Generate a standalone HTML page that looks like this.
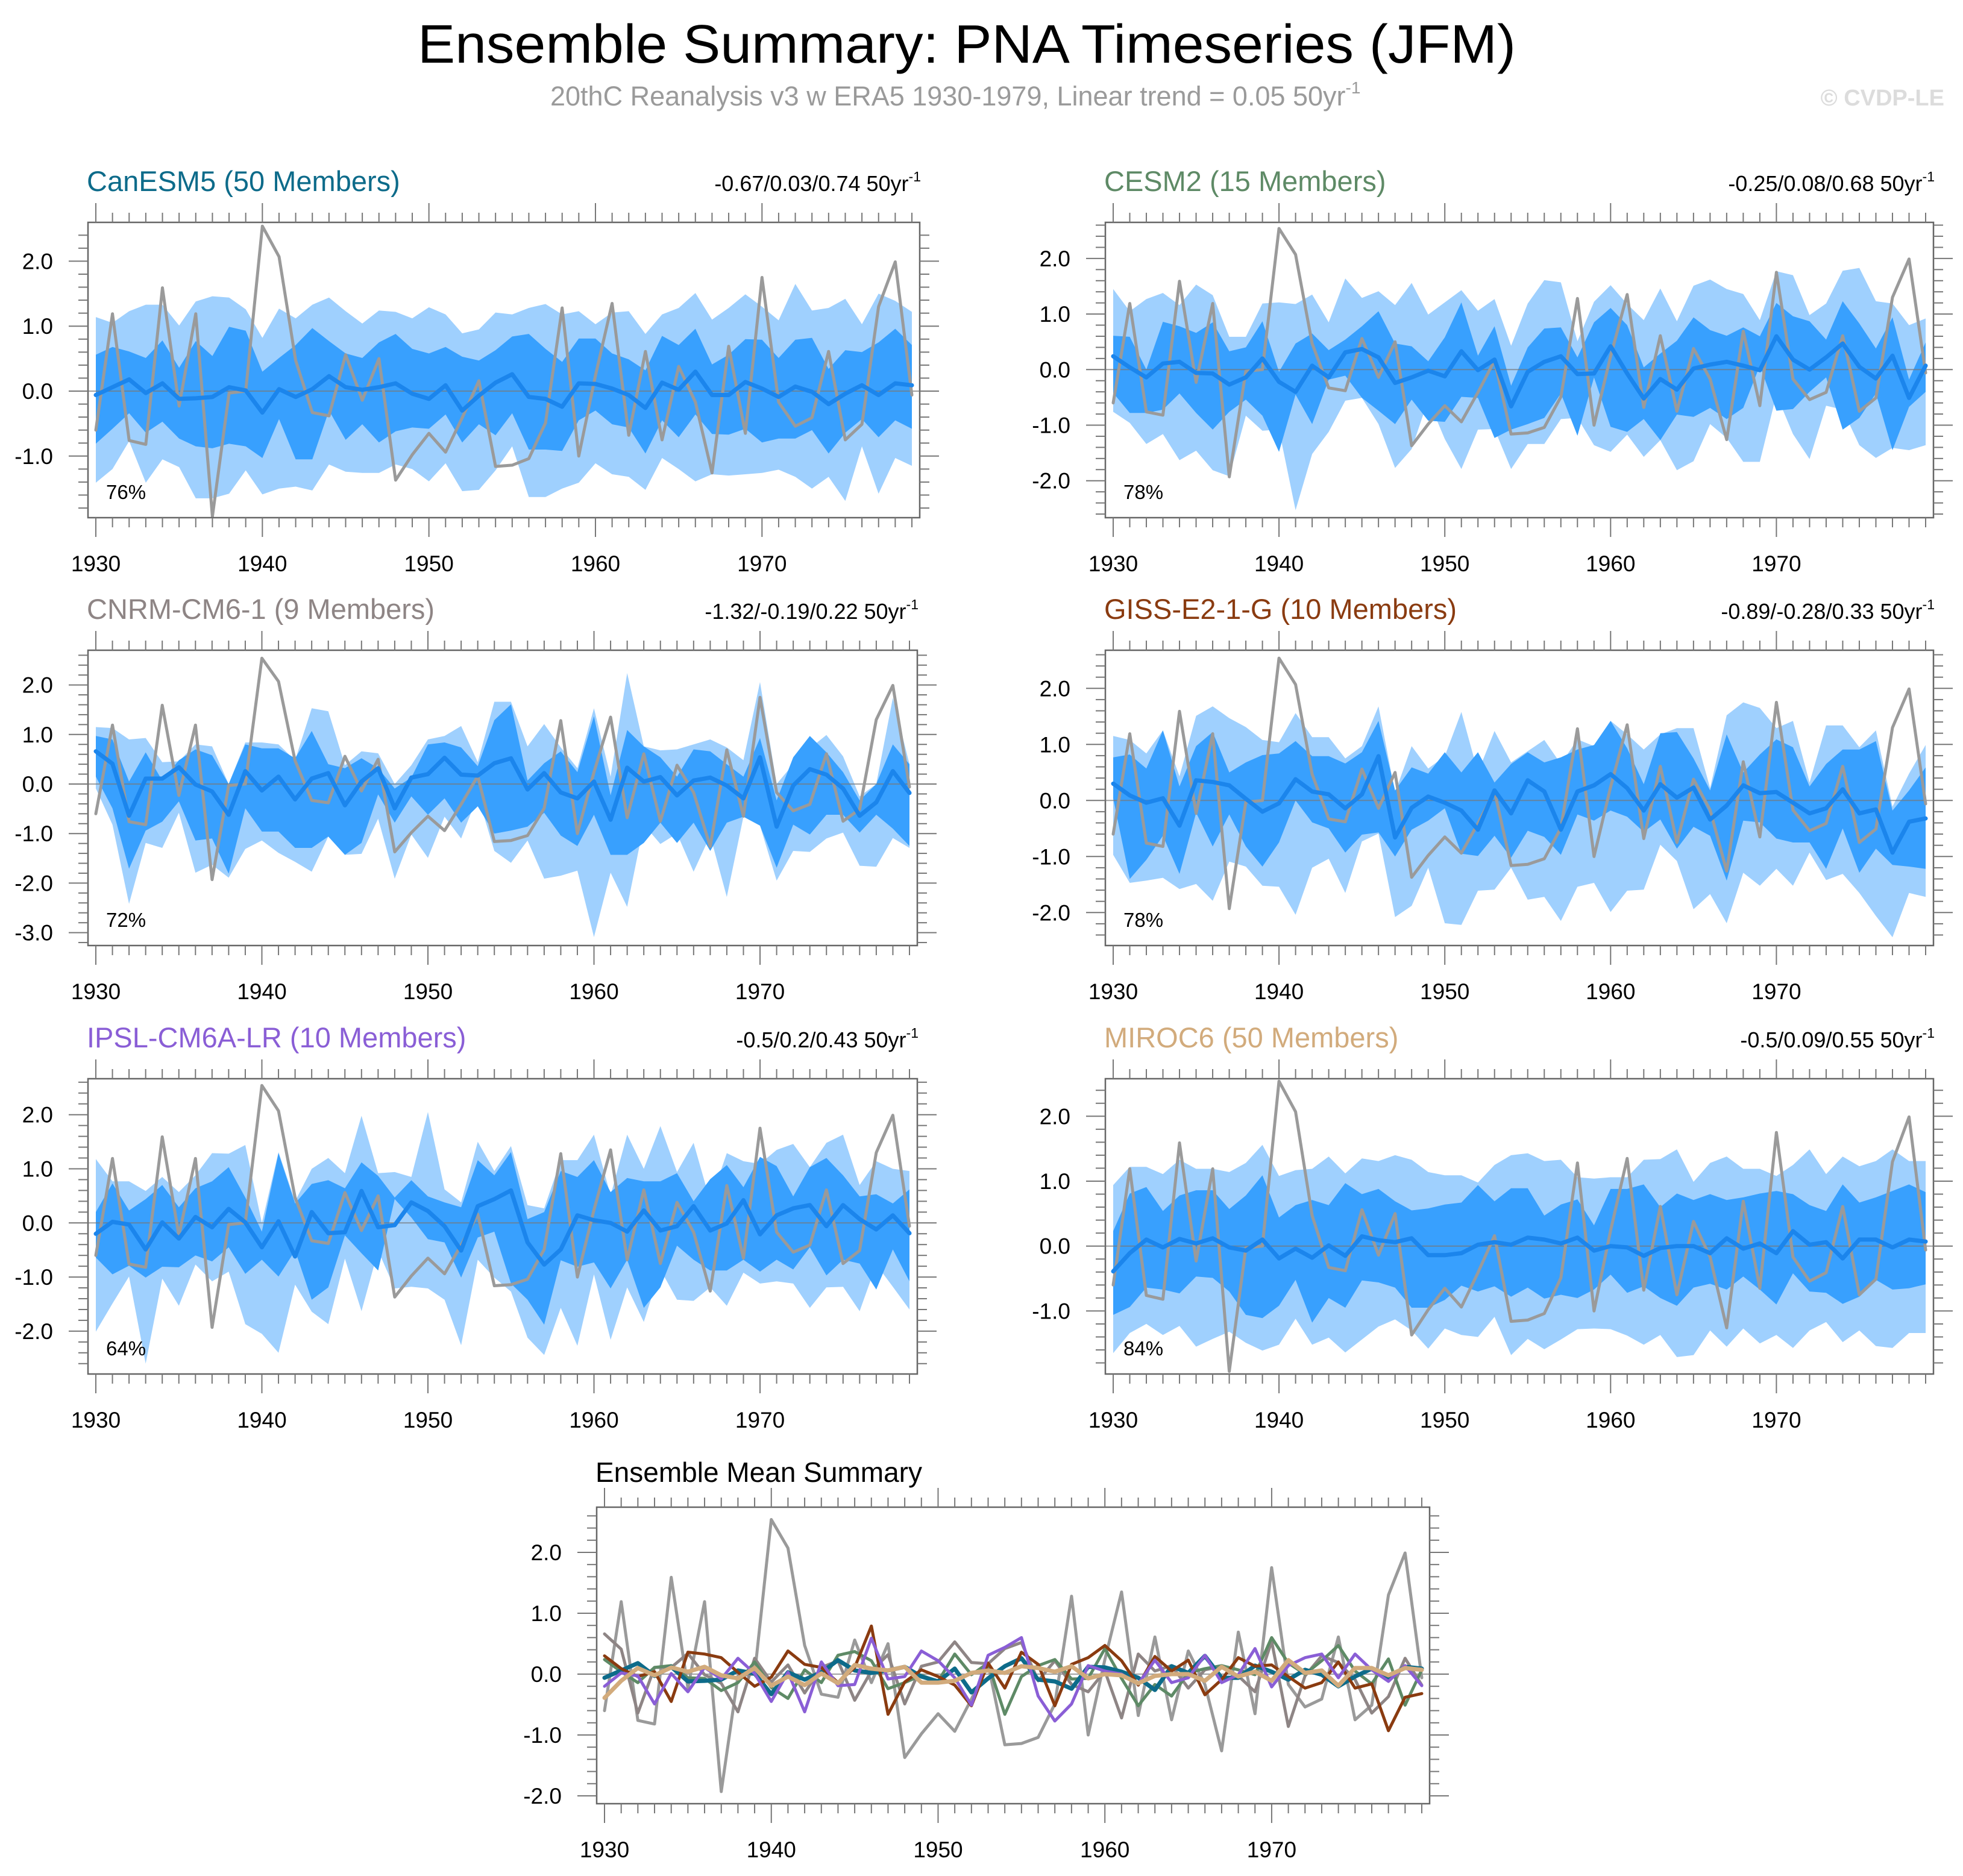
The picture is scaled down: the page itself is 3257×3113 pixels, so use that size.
<!DOCTYPE html>
<html><head><meta charset="utf-8"><style>
html,body{margin:0;padding:0;background:#fff;}
svg{display:block;font-family:"Liberation Sans",sans-serif;}
</style></head><body>
<svg id="fig" xmlns="http://www.w3.org/2000/svg" width="3257" height="3113" viewBox="0 0 3257 3113">
<rect width="3257" height="3113" fill="#fff"/>
<text x="1604" y="104" font-size="90" text-anchor="middle" textLength="1822" lengthAdjust="spacingAndGlyphs">Ensemble Summary: PNA Timeseries (JFM)</text>
<text x="913" y="175" font-size="45" fill="#9a9a9a">20thC Reanalysis v3 w ERA5 1930-1979, Linear trend = 0.05 50yr<tspan font-size="28" dy="-20">-1</tspan></text>
<text x="3226" y="175" font-size="38" font-weight="bold" fill="#dcdcdc" text-anchor="end">© CVDP-LE</text>
<g id="panels"></g>
</svg>
<script>
const years = [];
for (let y = 1930; y <= 1979; y++) years.push(y);
const obs = [-0.6,1.19,-0.76,-0.82,1.59,-0.23,1.19,-1.93,-0.03,0.0,2.54,2.07,0.47,-0.33,-0.38,0.56,-0.14,0.5,-1.37,-0.98,-0.65,-0.94,-0.41,0.16,-1.16,-1.14,-1.04,-0.49,1.28,-1.0,0.24,1.35,-0.68,0.61,-0.75,0.38,-0.17,-1.26,0.69,-0.65,1.75,-0.17,-0.54,-0.41,0.61,-0.75,-0.51,1.3,1.99,-0.06];

const canMean = [-0.06,0.06,0.18,-0.03,0.12,-0.12,-0.11,-0.09,0.06,0.01,-0.33,0.03,-0.09,0.03,0.23,0.06,0.02,0.06,0.12,-0.04,-0.12,0.09,-0.3,-0.07,0.13,0.26,-0.09,-0.12,-0.24,0.12,0.11,0.04,-0.06,-0.26,0.13,0.02,0.3,-0.06,-0.06,0.14,0.04,-0.09,0.07,-0.01,-0.2,-0.04,0.09,-0.06,0.12,0.09];
const canOutHi = [1.14,1.05,1.23,1.33,1.33,1.01,1.38,1.46,1.44,1.26,0.82,1.27,1.12,1.33,1.44,1.23,1.04,1.24,1.22,1.12,1.29,1.18,0.89,0.95,1.21,1.18,1.28,1.34,1.18,1.23,1.03,1.21,1.23,0.88,1.18,1.28,1.51,1.1,1.28,1.49,1.3,1.09,1.65,1.24,1.28,1.42,1.03,1.5,1.39,1.22];
const canInHi = [0.56,0.68,0.61,0.51,0.78,0.36,0.77,0.54,0.99,0.93,0.3,0.51,0.71,0.97,0.77,0.58,0.51,0.75,0.88,0.65,0.58,0.68,0.53,0.47,0.63,0.84,0.88,0.65,0.45,0.81,0.81,0.58,0.49,0.32,0.85,0.71,0.96,0.41,0.56,0.8,0.79,0.51,0.79,0.82,0.34,0.63,0.6,0.75,0.96,0.71];
const canInLo = [-0.81,-0.58,-0.34,-0.64,-0.47,-0.73,-0.85,-0.88,-0.81,-0.85,-1.03,-0.43,-1.05,-1.05,-0.3,-0.75,-0.51,-0.79,-0.62,-0.56,-0.58,-0.36,-0.79,-0.51,-0.68,-0.34,-0.9,-0.9,-0.92,-0.45,-0.3,-0.51,-0.56,-0.96,-0.45,-0.71,-0.36,-0.66,-0.67,-0.58,-0.79,-0.73,-0.73,-0.6,-0.96,-0.64,-0.43,-0.71,-0.45,-0.58];
const canOutLo = [-1.41,-1.2,-0.77,-1.41,-1.05,-1.17,-1.65,-1.65,-1.58,-1.22,-1.59,-1.5,-1.47,-1.53,-1.13,-1.24,-1.26,-1.26,-1.13,-1.2,-1.39,-1.11,-1.54,-1.52,-1.22,-0.85,-1.63,-1.63,-1.5,-1.41,-1.11,-1.28,-1.32,-1.52,-1.03,-1.2,-1.39,-1.28,-1.3,-1.28,-1.26,-1.21,-1.32,-1.5,-1.32,-1.69,-0.85,-1.58,-1.03,-1.15];

const cesmMean = [0.24,0.04,-0.14,0.11,0.14,-0.06,-0.07,-0.27,-0.14,0.2,-0.22,-0.4,0.07,-0.14,0.31,0.37,0.22,-0.24,-0.14,-0.02,-0.12,0.33,-0.01,0.18,-0.66,-0.04,0.14,0.24,-0.08,-0.07,0.42,-0.07,-0.52,-0.17,-0.36,0.02,0.09,0.14,0.07,-0.01,0.6,0.18,0,0.22,0.47,0.05,-0.16,0.25,-0.51,0.07];
const cesmOutHi = [1.45,1.05,1.27,1.38,1.16,1.53,1.34,0.59,0.59,1.19,1.21,1.18,1.35,0.85,1.64,1.29,1.41,1.16,1.56,0.99,1.21,1.43,1.06,1.27,0.43,1.19,1.61,1.57,0.51,1.22,1.52,1.18,0.89,1.46,0.87,1.51,1.62,1.45,1.36,0.89,1.77,1.7,0.98,1.19,1.78,1.83,1.23,1.19,0.8,0.92];
const cesmInHi = [0.61,0.59,0,0.86,0.78,0.66,0.85,0.33,0.4,0.87,-0.04,0.47,0.65,0.35,0.54,0.78,1.05,0.47,0.42,0.15,0.58,1.21,0.25,0.78,-0.29,0.4,0.74,0.76,0.22,0.85,1.11,0.8,0.04,0.29,0.52,0.94,0.71,0.61,0.76,0.6,1.2,0.96,0.87,0.54,1.23,0.83,0.38,0.94,-0.18,0.49];
const cesmInLo = [-0.42,-0.78,-0.78,-0.72,-0.43,-0.78,-1.08,-0.76,-0.54,-0.83,-1.48,-0.45,-0.98,-0.18,-0.11,-0.51,-0.74,-0.98,-0.54,-0.92,-0.94,-0.49,-0.51,-1.23,-1.08,-0.98,-0.87,-0.43,-1.19,-0.14,-1.03,-1.12,-0.89,-1.27,-0.81,-0.85,-0.69,-0.89,-0.69,0.07,-0.74,-0.71,-0.4,-0.14,-1.08,-0.87,-0.43,-1.45,-0.67,-0.4];
const cesmOutLo = [-0.76,-0.96,-1.34,-1.16,-1.63,-1.46,-1.81,-1.92,-0.83,-1.1,-1.08,-2.53,-1.52,-1.12,-0.56,-0.51,-0.98,-1.77,-1.43,-0.54,-1.25,-1.79,-1.08,-1.07,-1.79,-1.34,-1.34,-0.89,-0.87,-1.36,-1.48,-1.17,-1.57,-1.27,-1.81,-1.65,-0.98,-1.23,-1.66,-1.66,-0.45,-1.16,-1.61,-0.65,-0.72,-1.36,-1.59,-1.41,-1.45,-1.36];

const cnrmMean = [0.66,0.41,-0.64,0.11,0.11,0.34,-0.01,-0.15,-0.62,0.26,-0.13,0.15,-0.31,0.11,0.22,-0.43,0.05,0.32,-0.49,0.13,0.2,0.53,0.19,0.17,0.42,0.52,-0.11,0.22,-0.17,-0.29,0.05,-0.72,0.33,0.05,0.14,-0.23,0.07,0.13,-0.03,-0.29,0.54,-0.86,-0.03,0.3,0.19,-0.09,-0.64,-0.37,0.26,-0.18];
const cnrmOutHi = [1.15,1.13,0.9,0.93,0.44,0.46,0.8,0.76,0,0.84,0.84,0.8,0.48,1.53,1.47,0.38,0.66,0.62,0,0.38,0.9,0.97,1.17,0.44,1.66,1.66,0.76,1.21,0.74,0.32,1.53,0.15,2.24,0.76,0.68,0.7,0.8,0.9,0.74,0.48,2.06,0,0.4,0.72,0.99,0.56,-0.25,0,1.74,0.4];
const cnrmInHi = [0.97,0.9,0.05,0.64,0.07,0.48,0.7,0.58,0,0.8,0.72,0.72,0.52,1.07,0.4,0.32,0.52,0.32,-0.09,0.13,0.8,0.84,0.74,0.36,1.29,1.61,0.07,0.42,0.66,0.24,1.37,-0.23,1.09,0.76,0.54,0.15,0.7,0.66,0.4,0.15,0.93,-0.33,0.54,0.97,0.64,0.24,-0.33,0,0.8,0.4];
const cnrmInLo = [0.15,-0.49,-1.71,-0.94,-0.76,-0.35,-1.14,-1.1,-1.81,-0.49,-0.96,-0.96,-1.29,-1.29,-1.06,-1.43,-1.19,-0.21,-0.78,-0.25,-0.62,-0.29,-0.78,-0.45,-1.0,-0.94,-0.86,-0.58,-1.04,-1.25,-0.62,-1.43,-1.43,-1.19,-0.78,-1.19,-0.78,-1.35,-0.78,-0.66,-0.84,-1.69,-0.82,-1.02,-0.62,-0.62,-0.98,-0.62,-0.9,-1.25];
const cnrmOutLo = [-0.09,-0.82,-2.42,-1.19,-1.29,-0.58,-1.79,-1.63,-1.89,-1.31,-1.14,-1.39,-1.57,-1.77,-1.06,-1.43,-1.41,-0.7,-1.91,-1.02,-1.49,-0.66,-1.1,-0.23,-1.35,-1.59,-1.14,-1.91,-1.85,-1.75,-3.09,-1.79,-2.48,-0.82,-1.21,-1.0,-1.77,-1.04,-2.28,-0.66,-0.84,-1.95,-1.35,-1.37,-1.1,-0.98,-1.65,-1.67,-1.09,-1.29];

const gissMean = [0.3,0.09,-0.04,0.04,-0.45,0.36,0.33,0.27,0.03,-0.2,-0.05,0.38,0.16,0.11,-0.14,0.11,0.79,-0.66,-0.13,0.07,-0.04,-0.18,-0.52,0.18,-0.23,0.36,0.16,-0.52,0.16,0.27,0.47,0.22,-0.18,0.29,0.05,0.23,-0.34,-0.09,0.27,0.13,0.15,-0.04,-0.23,-0.14,0.2,-0.23,-0.16,-0.93,-0.38,-0.32];
const gissOutHi = [1.15,1.08,0.84,1.25,0.43,1.51,1.68,1.47,1.31,1.08,1.04,1.56,1.13,1.13,0.75,0.97,1.68,0.14,0.97,0.57,0.79,1.58,0.5,1.24,0.68,0.88,1.08,0.65,1.09,0.97,1.42,1.18,0.91,1.18,1.29,1.29,0.22,1.52,1.75,1.65,1.29,1.42,0.32,1.34,1.34,0.95,1.25,-0.11,0.48,0.99];
const gissInHi = [0.77,0.82,0.57,1.25,0.25,0.97,1.22,0.5,0.68,0.81,0.84,1.06,0.79,0.79,0.66,0.86,1.42,0.18,0.59,0.48,0.86,0.5,0.86,0.32,0.65,0.86,0.68,0.77,0.91,0.99,1.42,0.93,0.29,1.2,1.22,0.75,0.18,1.18,0.5,0.82,1.09,0.95,0.25,0.65,0.91,0.91,1.06,-0.18,0.18,0.59];
const gissInLo = [0.04,-1.4,-1.06,-0.63,-1.31,-0.22,-0.82,-0.25,-0.82,-1.18,-0.75,0,-0.39,-0.5,-0.93,-0.61,-0.57,-1.0,-0.52,-0.36,-0.14,-0.95,-0.99,-0.63,-1.02,-0.54,-0.65,-0.97,-0.25,-0.36,-0.18,-0.29,-0.56,-0.34,-0.86,-0.47,-0.63,-1.43,-0.36,-0.39,-0.68,-0.75,-0.75,-1.22,-0.5,-1.29,-0.86,-1.15,-1.18,-1.22];
const gissOutLo = [-0.97,-1.47,-1.43,-1.38,-1.58,-1.49,-1.79,-1.09,-1.18,-1.52,-1.54,-2.04,-1.2,-1.04,-1.65,-0.73,-0.59,-2.08,-1.88,-1.2,-2.19,-2.22,-1.61,-1.59,-1.2,-1.77,-1.72,-2.15,-1.54,-1.47,-1.99,-1.61,-1.59,-0.79,-1.08,-1.94,-1.67,-2.19,-1.29,-1.52,-1.22,-1.52,-0.93,-1.42,-1.31,-1.65,-2.06,-2.44,-1.65,-1.72];

const ipslMean = [-0.2,0.02,-0.03,-0.49,0.01,-0.29,0.11,-0.08,0.26,0.01,-0.45,0.03,-0.62,0.2,-0.19,-0.17,0.59,-0.08,-0.04,0.38,0.22,-0.06,-0.51,0.31,0.44,0.6,-0.36,-0.77,-0.49,0.14,0.05,0,-0.16,0.23,-0.14,-0.06,0.31,-0.14,-0.01,0.42,-0.21,0.14,0.27,0.33,-0.06,0.33,0.07,-0.12,0.14,-0.19];
const ipslOutHi = [1.18,0.77,0.77,0.59,0.85,0.57,0.88,1.29,1.28,1.44,0,1.31,0.4,1.0,1.2,0.92,1.98,0.92,0.94,0.85,2.05,0.62,0.38,1.5,0.96,1.42,0.33,0.27,1.16,1.16,1.63,0.51,1.63,1.0,1.79,0.94,1.48,0.4,1.29,1.14,1.09,1.35,1.46,1.03,1.48,1.63,0.7,1.14,1.0,0.96];
const ipslInHi = [0.2,0.73,0.23,0.44,0.7,0.29,0.64,0.77,1.03,0.47,-0.16,1.29,0.36,0.72,0.79,0.64,1.12,0.87,0.47,0.79,0.49,0.38,0.29,1.16,0.88,1.31,0.07,0.2,0.96,0.85,1.16,0.57,0.83,0.77,0.77,0.92,0.4,0.81,1.07,0.66,1.22,1.05,0.49,1.03,1.2,0.88,0.49,0.53,0.36,0.62];
const ipslInLo = [-0.64,-0.95,-0.79,-1.01,-0.81,-0.82,-0.6,-0.71,-0.45,-0.94,-0.68,-0.99,-0.51,-1.42,-1.19,-0.23,-0.56,-0.88,0.44,0.1,-0.3,-0.36,-1.01,-0.27,-0.16,-1.12,-1.42,-1.88,-0.69,-0.81,-0.73,-1.21,-0.68,-1.57,-1.19,-0.42,-0.68,-0.88,-0.88,-0.68,-0.9,-0.68,-0.86,-0.45,-0.97,-0.68,-0.75,-1.23,-0.49,-1.08];
const ipslOutLo = [-2.01,-1.49,-0.99,-2.6,-1.03,-1.53,-0.77,-1.08,-0.9,-1.87,-2.05,-2.4,-1.14,-1.64,-1.87,-0.66,-1.63,-0.51,-1.21,-1.18,-1.21,-1.42,-2.26,-0.68,-1.01,-1.27,-2.12,-2.44,-1.57,-2.27,-0.95,-2.16,-1.19,-1.83,-0.86,-1.42,-1.44,-1.19,-1.53,-0.92,-1.12,-1.08,-1.12,-1.57,-1.19,-1.18,-1.63,-0.77,-1.18,-1.6];

const mirocMean = [-0.39,-0.11,0.1,-0.02,0.11,0.04,0.12,-0.02,-0.07,0.1,-0.19,-0.04,-0.18,0.01,-0.15,0.15,0.09,0.06,0.12,-0.14,-0.14,-0.11,0.02,0.06,0.02,0.13,0.1,0.04,0.13,-0.07,0,-0.02,-0.15,-0.03,0,0,-0.11,0.12,-0.04,0.04,-0.11,0.23,0.02,0.06,-0.19,0.1,0.1,-0.02,0.1,0.07];
const mirocOutHi = [0.94,1.22,1.22,1.11,1.33,1.19,1.19,1.14,1.28,1.56,1.08,1.17,1.19,1.38,1.12,1.35,1.31,1.4,1.33,1.14,1.09,1.09,0.98,1.25,1.4,1.43,1.31,1.33,1.06,1.04,1.06,1.06,1.33,1.34,1.49,0.99,1.28,1.38,1.19,1.19,1.08,1.25,1.49,1.11,1.38,1.23,1.31,1.49,1.31,1.31];
const mirocInHi = [0.23,0.81,0.91,0.54,0.78,0.86,0.86,0.57,0.78,1.09,0.44,0.63,0.71,0.63,0.97,0.8,0.88,0.69,0.55,0.58,0.64,0.67,0.94,0.69,0.89,0.89,0.47,0.64,0.72,0.32,0.88,0.88,0.95,0.6,0.81,0.71,0.8,0.71,0.75,0.81,0.85,0.8,0.63,0.54,0.95,0.67,0.75,0.85,0.95,0.83];
const mirocInLo = [-1.06,-0.94,-0.64,-0.67,-0.73,-0.47,-0.49,-0.7,-1.06,-1.11,-0.92,-0.52,-1.18,-0.8,-0.95,-0.53,-0.56,-0.64,-0.95,-0.95,-0.83,-0.61,-0.7,-0.62,-0.78,-0.64,-0.81,-0.75,-0.8,-0.67,-0.44,-0.72,-0.62,-0.8,-0.92,-0.64,-0.58,-0.67,-0.47,-0.67,-0.9,-0.42,-0.7,-0.72,-0.89,-0.78,-0.52,-0.67,-0.65,-0.59];
const mirocOutLo = [-1.65,-1.34,-1.2,-1.37,-1.23,-1.55,-1.43,-1.32,-1.49,-1.61,-1.52,-1.12,-1.52,-1.41,-1.64,-1.44,-1.24,-1.13,-1.3,-1.58,-1.27,-1.37,-1.4,-1.09,-1.68,-1.43,-1.59,-1.44,-1.28,-1.27,-1.28,-1.38,-1.52,-1.37,-1.71,-1.68,-1.3,-1.55,-1.27,-1.5,-1.37,-1.57,-1.3,-1.17,-1.48,-1.3,-1.54,-1.57,-1.34,-1.34];

const modelNames = ["CanESM5 (50 Members)","CESM2 (15 Members)","CNRM-CM6-1 (9 Members)","GISS-E2-1-G (10 Members)","IPSL-CM6A-LR (10 Members)","MIROC6 (50 Members)"];
const trendLabels = ["-0.67/0.03/0.74","-0.25/0.08/0.68","-1.32/-0.19/0.22","-0.89/-0.28/0.33","-0.5/0.2/0.43","-0.5/0.09/0.55"];
const pctLabels = ["76%","78%","72%","78%","64%","84%"];
const yTickLabels = [[2,1,0,-1],[2,1,0,-1,-2],[2,1,0,-1,-2,-3],[2,1,0,-1,-2],[2,1,0,-1,-2],[2,1,0,-1],[2,1,0,-1,-2]];
const xTickYears = [1930,1940,1950,1960,1970];

const series = [
 [canMean,canOutHi,canInHi,canInLo,canOutLo],
 [cesmMean,cesmOutHi,cesmInHi,cesmInLo,cesmOutLo],
 [cnrmMean,cnrmOutHi,cnrmInHi,cnrmInLo,cnrmOutLo],
 [gissMean,gissOutHi,gissInHi,gissInLo,gissOutLo],
 [ipslMean,ipslOutHi,ipslInHi,ipslInLo,ipslOutLo],
 [mirocMean,mirocOutHi,mirocInHi,mirocInLo,mirocOutLo]
];
const slugs = ["canesm5","cesm2","cnrm-cm6-1","giss-e2-1-g","ipsl-cm6a-lr","miroc6"];
const titleColors = ["#0d6b8a","#5e8a66","#8e8585","#8a3b10","#8a5ed6","#d2ab7c"];
const lineColors = ["#0d6b8a","#5e8a66","#8e8585","#8a3b10","#8a5ed6","#d2ab7c"];

// layout (not data)
const layout = [
 {L:146,T:369,W:1380,H:490,z:649,u:107.8},
 {L:1834,T:369,W:1374,H:490,z:613.3,u:92.2},
 {L:146,T:1079,W:1376,H:490,z:1301,u:82.2},
 {L:1834,T:1079,W:1374,H:490,z:1328.3,u:93},
 {L:146,T:1790,W:1376,H:490,z:2029.3,u:89.8},
 {L:1834,T:1790,W:1374,H:490,z:2067.7,u:107.7},
 {L:990,T:2501,W:1382,H:492,z:2778,u:101}
];

const NS = "http://www.w3.org/2000/svg";
const root = document.getElementById("panels");
function mk(tag, attrs, parent) {
  const e = document.createElementNS(NS, tag);
  for (const k in attrs) e.setAttribute(k, attrs[k]);
  (parent || root).appendChild(e);
  return e;
}

function drawPanel(p, idx) {
  const g = mk("g", {});
  
  
  const per = (p.W - 26) / 49;
  const xs = yr => p.L + 13 + (yr - 1930) * per;
  const ys = v => p.z - v * p.u;
  const B = p.T + p.H;
  mk("rect", {x:p.L, y:p.T, width:p.W, height:p.H, fill:"#fff"}, g);
  const clipId = "clip" + idx;
  const cp = mk("clipPath", {id:clipId}, g);
  mk("rect", {x:p.L, y:p.T, width:p.W, height:p.H}, cp);
  const plot = mk("g", {"clip-path":"url(#" + clipId + ")"}, g);
  function band(hi, lo, color, name) {
    let d = "";
    hi.forEach((v,i) => { d += (i ? "L" : "M") + xs(years[i]).toFixed(1) + "," + ys(v).toFixed(1); });
    for (let i = lo.length - 1; i >= 0; i--) d += "L" + xs(years[i]).toFixed(1) + "," + ys(lo[i]).toFixed(1);
    const e = mk("path", {d:d + "Z", fill:color}, plot);
    
    
  }
  function line(vals, color, w, name) {
    const pts = vals.map((v,i) => xs(years[i]).toFixed(1) + "," + ys(v).toFixed(1)).join(" ");
    const e = mk("polyline", {points:pts, fill:"none", stroke:color, "stroke-width":w, "stroke-linejoin":"round", "stroke-linecap":"round"}, plot);
    
    
  }
  if (idx < 6) {
    const s = series[idx];
    band(s[1], s[4], "#9fd0fe", "outer-spread-band");
    band(s[2], s[3], "#38a0fe", "inner-spread-band");
  }
  const zl = mk("line", {x1:p.L, x2:p.L + p.W, y1:ys(0), y2:ys(0), stroke:"#777", "stroke-width":2, "stroke-opacity":0.7}, plot);
  
  
  if (idx < 6) {
    line(obs, "#9a9a9a", 5, "observed-pna-line");
    line(series[idx][0], "#1b85ec", 7, "ensemble-mean-line");
  } else {
    line(obs, "#9a9a9a", 5, "observed-pna-line");
    const order = [2,1,0,3,4,5];
    order.forEach(k => line(series[k][0], lineColors[k], k === 0 || k === 5 ? 7 : 5, "mean-line-" + slugs[k]));
  }
  mk("rect", {x:p.L, y:p.T, width:p.W, height:p.H, fill:"none", stroke:"#666", "stroke-width":2.5}, g);
  const tk = mk("g", {stroke:"#777", "stroke-width":2}, g);
  for (let yr = 1930; yr <= 1979; yr++) {
    const x = xs(yr);
    const len = (yr % 10 === 0) ? 32 : 16;
    mk("line", {x1:x, x2:x, y1:B, y2:B + len}, tk);
    mk("line", {x1:x, x2:x, y1:p.T, y2:p.T - len}, tk);
  }
  const vmax = (p.z - p.T) / p.u, vmin = (p.z - B) / p.u;
  for (let k = Math.ceil(vmin * 5); k <= Math.floor(vmax * 5); k++) {
    const y = ys(k / 5);
    const len = (k % 5 === 0) ? 32 : 16;
    mk("line", {x1:p.L, x2:p.L - len, y1:y, y2:y}, tk);
    mk("line", {x1:p.L + p.W, x2:p.L + p.W + len, y1:y, y2:y}, tk);
  }
  xTickYears.forEach(yr => {
    const t = mk("text", {x:xs(yr), y:B + 89, "font-size":37, "text-anchor":"middle"}, g);
    t.textContent = yr;
    
    
  });
  yTickLabels[idx].forEach(v => {
    const t = mk("text", {x:p.L - 58, y:ys(v) + 13, "font-size":37, "text-anchor":"end"}, g);
    t.textContent = v.toFixed(1);
    
    
  });
  if (idx < 6) {
    const t = mk("text", {x:p.L - 2, y:p.T - 52, "font-size":47, fill:titleColors[idx]}, g);
    t.textContent = modelNames[idx];
    
    
    const r = mk("text", {x:p.L + p.W + 2, y:p.T - 52, "font-size":36, "text-anchor":"end"}, g);
    r.textContent = trendLabels[idx] + " 50yr";
    const sup = mk("tspan", {"font-size":23, dy:-16}, r);
    sup.textContent = "-1";
    
    
    const pc = mk("text", {x:p.L + 30, y:B - 31, "font-size":33}, g);
    pc.textContent = pctLabels[idx];
    
    
  } else {
    const t = mk("text", {x:p.L - 2, y:p.T - 42, "font-size":46}, g);
    t.textContent = "Ensemble Mean Summary";
    
    
  }
}
layout.forEach((p, i) => drawPanel(p, i));
</script>
</body></html>
